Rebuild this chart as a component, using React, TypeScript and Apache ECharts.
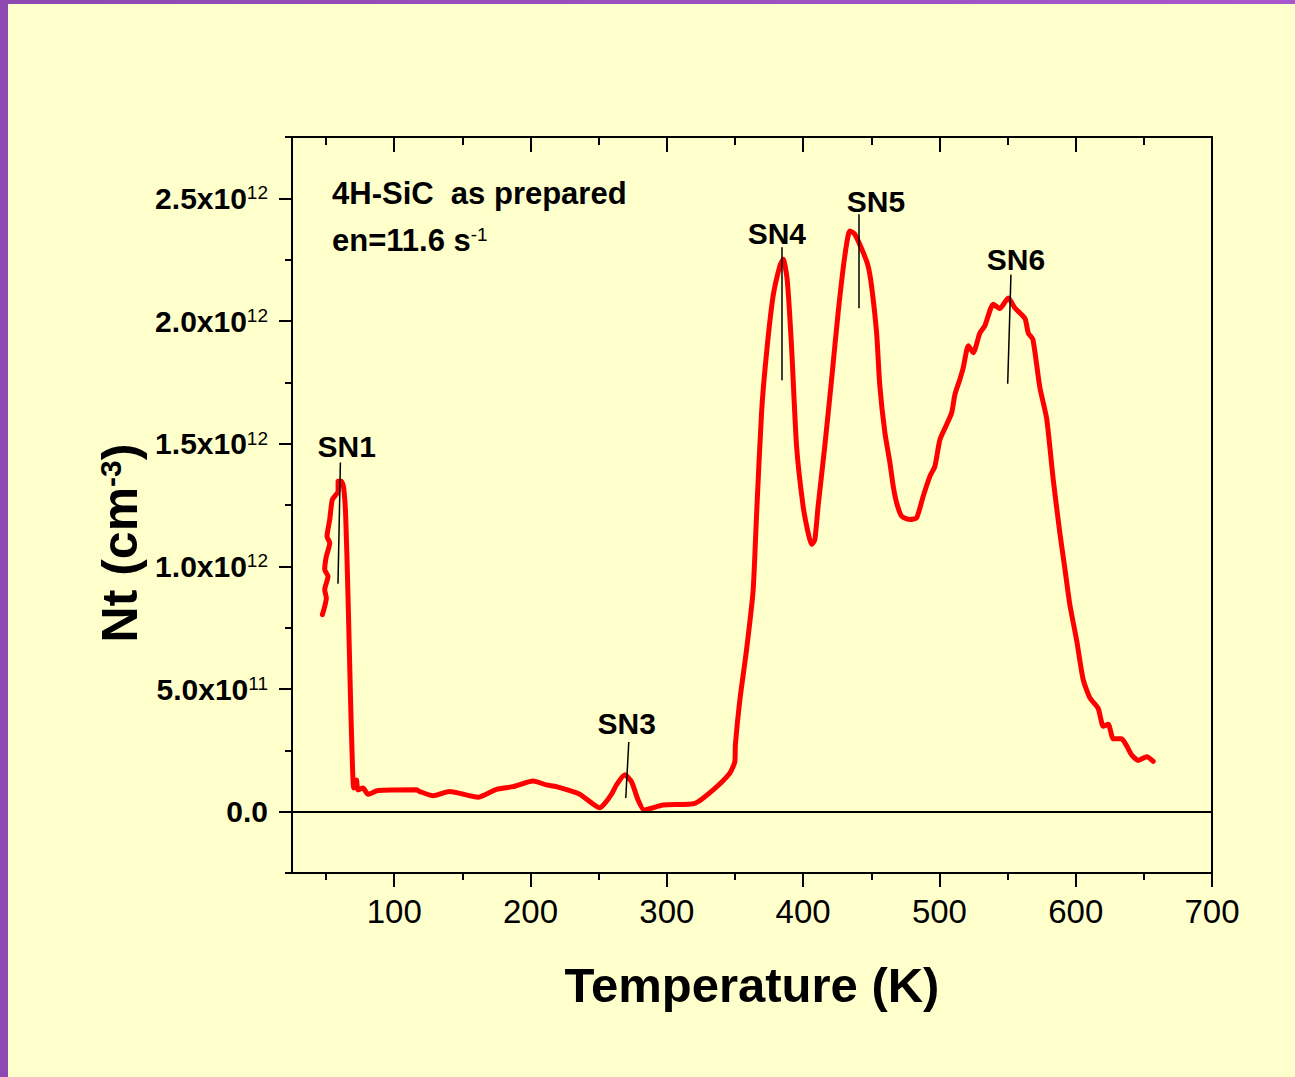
import React, { useEffect, useRef } from "react";
import * as echarts from "echarts";

// Temperature (K)
const T = [
  47.3, 50.2, 49.0, 51.4, 49.0, 50.2, 52.7, 50.7, 52.7, 54.6, 58.8, 58.8, 61.2, 62.9, 64.4, 66.1,
  67.9, 69.3, 70.3, 72.3, 73.4, 77.1, 80.8, 88.1, 116.3, 118.7, 128.5, 140.7, 161.5, 175.0, 187.2,
  201.9, 211.7, 219.0, 236.1, 250.8, 254.5, 259.4, 263.1, 269.2, 274.1, 278.9, 283.3, 297.3, 320.6,
  334.0, 346.2, 349.9, 350.3, 353.6, 358.5, 363.3, 365.8, 369.5, 373.2, 378.0, 382.9, 385.4, 388.3,
  391.5, 395.2, 400.0, 403.7, 406.2, 408.6, 411.0, 415.9, 420.9, 425.7, 430.6, 434.3, 437.9, 444.1,
  447.7, 450.2, 453.9, 456.3, 460.0, 463.7, 466.1, 468.6, 472.3, 478.4, 483.3, 488.1, 493.0, 496.7,
  500.4, 505.3, 509.0, 511.4, 515.0, 517.5, 521.2, 524.8, 529.7, 533.4, 539.5, 544.4, 550.5, 555.4,
  562.8, 565.2, 568.6, 573.7, 578.7, 583.5, 588.4, 592.1, 595.7, 600.7, 605.5, 610.4, 616.5, 620.2,
  623.9, 627.6, 633.7, 637.4, 641.1, 645.9, 652.1, 656.9,
];
// Nt in units of 10^12 cm^-3
const NT = [
  0.803, 0.871, 0.905, 0.959, 0.987, 1.041, 1.095, 1.122, 1.191, 1.272, 1.306, 1.347, 1.347, 1.32,
  1.204, 0.878, 0.469, 0.198, 0.096, 0.129, 0.089, 0.096, 0.071, 0.086, 0.089, 0.082, 0.065, 0.082,
  0.059, 0.091, 0.102, 0.125, 0.109, 0.102, 0.071, 0.016, 0.034, 0.071, 0.109, 0.15, 0.122, 0.048,
  0.007, 0.027, 0.034, 0.089, 0.157, 0.204, 0.272, 0.456, 0.66, 0.9, 1.204, 1.626, 1.871, 2.102,
  2.224, 2.252, 2.17, 1.898, 1.49, 1.245, 1.136, 1.089, 1.109, 1.245, 1.49, 1.762, 2.034, 2.265,
  2.367, 2.354, 2.279, 2.224, 2.143, 1.953, 1.735, 1.545, 1.422, 1.327, 1.259, 1.204, 1.191, 1.198,
  1.286, 1.367, 1.408, 1.517, 1.578, 1.626, 1.701, 1.762, 1.81, 1.899, 1.871, 1.951, 1.981, 2.068,
  2.051, 2.094, 2.053, 2.01, 1.951, 1.925, 1.729, 1.602, 1.354, 1.135, 0.989, 0.844, 0.698, 0.538,
  0.464, 0.421, 0.348, 0.356, 0.297, 0.297, 0.268, 0.231, 0.209, 0.224, 0.205,
];
const UNIT = 1e12;

// Peak labels: name, label centre (T, Nt/1e12), pointer line top and bottom (T, Nt/1e12)
const PEAK_NAMES = ["SN1", "SN3", "SN4", "SN5", "SN6"];
const PEAK_LABEL_T = [65.1, 270.6, 380.7, 453.4, 556.2];
const PEAK_LABEL_N = [1.489, 0.358, 2.358, 2.489, 2.252];
const PEAK_LINE_T1 = [60.5, 272.1, 384.2, 441.1, 552.5];
const PEAK_LINE_N1 = [1.423, 0.284, 2.301, 2.435, 2.189];
const PEAK_LINE_T2 = [58.75, 269.9, 384.2, 441.1, 550.1];
const PEAK_LINE_N2 = [0.929, 0.056, 1.759, 2.052, 1.744];

const X_MIN = 25;
const X_MAX = 700;
const X_MAJOR = [100, 200, 300, 400, 500, 600, 700];
const X_MINOR = [50, 150, 250, 350, 450, 550, 650];
const Y_MIN = -0.25e12;
const Y_MAX = 2.75e12;
const Y_MAJOR = [0, 0.5e12, 1.0e12, 1.5e12, 2.0e12, 2.5e12];
const Y_MINOR = [-0.25e12, 0.25e12, 0.75e12, 1.25e12, 1.75e12, 2.25e12, 2.75e12];

const FONT = "'Liberation Sans', Arial, Helvetica, sans-serif";

function yLabel(v: number): string {
  if (Math.abs(v) < 1) return "{m|0.0}";
  const e = Math.floor(Math.log10(v) + 1e-9);
  const m = v / Math.pow(10, e);
  return `{m|${m.toFixed(1)}x10}{s|${e}}`;
}

export default function App() {
  const ref = useRef<HTMLDivElement>(null);
  useEffect(() => {
    if (!ref.current) return;
    const chart = echarts.init(ref.current, undefined, { renderer: "svg" });
    const black = "#000";
    const baseX = {
      type: "value",
      min: X_MIN,
      max: X_MAX,
      splitLine: { show: false },
    };
    const baseY = {
      type: "value",
      min: Y_MIN,
      max: Y_MAX,
      splitLine: { show: false },
    };
    const pointerLines = PEAK_NAMES.map((_, i) => [
      { coord: [PEAK_LINE_T2[i], PEAK_LINE_N2[i] * UNIT] },
      { coord: [PEAK_LINE_T1[i], PEAK_LINE_N1[i] * UNIT] },
    ]);
    const option: any = {
      animation: false,
      backgroundColor: "#FFFFCC",
      textStyle: { fontFamily: FONT },
      grid: { left: 292, top: 137, right: 83, bottom: 204 },
      xAxis: [
        {
          ...baseX,
          position: "bottom",
          axisLine: { show: true, onZero: false, lineStyle: { color: black, width: 2 } },
          axisTick: { show: true, customValues: X_MAJOR, length: 14, lineStyle: { color: black, width: 2 } },
          axisLabel: {
            show: true,
            customValues: X_MAJOR,
            margin: 22,
            fontSize: 33,
            color: black,
            fontFamily: FONT,
          },
        },
        {
          ...baseX,
          position: "bottom",
          axisLine: { show: false, onZero: false },
          axisTick: { show: true, customValues: X_MINOR, length: 7, lineStyle: { color: black, width: 2 } },
          axisLabel: { show: false },
        },
        {
          ...baseX,
          position: "top",
          axisLine: { show: true, onZero: false, lineStyle: { color: black, width: 2 } },
          axisTick: { show: true, inside: true, customValues: X_MAJOR, length: 15, lineStyle: { color: black, width: 2 } },
          axisLabel: { show: false },
        },
        {
          ...baseX,
          position: "top",
          axisLine: { show: false, onZero: false },
          axisTick: { show: true, inside: true, customValues: X_MINOR, length: 8, lineStyle: { color: black, width: 2 } },
          axisLabel: { show: false },
        },
      ],
      yAxis: [
        {
          ...baseY,
          position: "left",
          axisLine: { show: true, onZero: false, lineStyle: { color: black, width: 2 } },
          axisTick: { show: true, customValues: Y_MAJOR, length: 13, lineStyle: { color: black, width: 2 } },
          axisLabel: {
            show: true,
            customValues: Y_MAJOR,
            margin: 24,
            formatter: (v: number) => yLabel(v),
            rich: {
              m: { fontSize: 30, fontWeight: "bold", color: black, fontFamily: FONT, lineHeight: 30 },
              s: { fontSize: 19, color: black, fontFamily: FONT, verticalAlign: "top", lineHeight: 10 },
            },
          },
        },
        {
          ...baseY,
          position: "left",
          axisLine: { show: false, onZero: false },
          axisTick: { show: true, customValues: Y_MINOR, length: 7, lineStyle: { color: black, width: 2 } },
          axisLabel: { show: false },
        },
        {
          ...baseY,
          position: "right",
          axisLine: { show: true, onZero: false, lineStyle: { color: black, width: 2 } },
          axisTick: { show: false },
          axisLabel: { show: false },
        },
      ],
      series: [
        {
          name: "Nt",
          type: "line",
          xAxisIndex: 0,
          yAxisIndex: 0,
          data: T.map((t, i) => [t, NT[i] * UNIT]),
          symbol: "none",
          smooth: 0.2,
          lineStyle: { color: "#FF0000", width: 5, cap: "round", join: "round" },
          z: 3,
          markLine: {
            silent: true,
            symbol: "none",
            label: { show: false },
            data: [
              { yAxis: 0, lineStyle: { color: black, width: 2, type: "solid" } },
              ...pointerLines.map((p) => [
                { ...p[0], lineStyle: { color: black, width: 1.5, type: "solid" } },
                p[1],
              ]),
            ],
          },
        },
        {
          name: "peaks",
          type: "scatter",
          xAxisIndex: 0,
          yAxisIndex: 0,
          data: PEAK_NAMES.map((n, i) => [PEAK_LABEL_T[i], PEAK_LABEL_N[i] * UNIT, n]),
          symbolSize: 1,
          itemStyle: { color: "rgba(0,0,0,0)", opacity: 1 },
          silent: true,
          label: {
            show: true,
            position: "inside",
            formatter: (p: any) => p.data[2],
            fontSize: 30,
            fontWeight: "bold",
            color: "#000000",
            opacity: 1,
            textBorderWidth: 0,
            fontFamily: FONT,
          },
          z: 5,
        },
      ],
      graphic: [
        {
          type: "rect",
          shape: { x: 0, y: 0, width: 8, height: 1077 },
          style: { fill: "#8E48B2" },
          z: 100,
        },
        {
          type: "rect",
          shape: { x: 0, y: 0, width: 1295, height: 4 },
          style: {
            fill: new echarts.graphic.LinearGradient(0, 0, 1, 0, [
              { offset: 0, color: "#8E48B2" },
              { offset: 1, color: "#A857CC" },
            ]),
          },
          z: 100,
        },
        {
          type: "text",
          x: 332,
          y: 193,
          style: {
            text: "4H-SiC  as prepared",
            fontSize: 31,
            fontWeight: "bold",
            fontFamily: FONT,
            fill: black,
            verticalAlign: "middle",
          },
          z: 50,
        },
        {
          type: "text",
          x: 332,
          y: 240,
          style: {
            text: "{m|en=11.6 s}{s|-1}",
            rich: {
              m: { fontSize: 31, fontWeight: "bold", fontFamily: FONT, fill: black, lineHeight: 31 },
              s: { fontSize: 19, fontFamily: FONT, fill: black, verticalAlign: "top", lineHeight: 10 },
            },
            verticalAlign: "middle",
          },
          z: 50,
        },
        {
          type: "text",
          x: 120,
          y: 543,
          rotation: Math.PI / 2,
          style: {
            text: "{m|Nt (cm}{s|-3}{m|)}",
            rich: {
              m: { fontSize: 50, fontWeight: "bold", fontFamily: FONT, fill: black, lineHeight: 50 },
              s: { fontSize: 30, fontWeight: "bold", fontFamily: FONT, fill: black, verticalAlign: "top", lineHeight: 20 },
            },
            align: "center",
            verticalAlign: "middle",
          },
          z: 50,
        },
        {
          type: "text",
          x: 752,
          y: 985,
          style: {
            text: "Temperature (K)",
            fontSize: 49,
            fontWeight: "bold",
            fontFamily: FONT,
            fill: black,
            align: "center",
            verticalAlign: "middle",
          },
          z: 50,
        },
      ],
    };
    chart.setOption(option);
    return () => chart.dispose();
  }, []);
  return (
    <div
      ref={ref}
      style={{ position: "fixed", left: 0, top: 0, width: 1295, height: 1077 }}
    />
  );
}
